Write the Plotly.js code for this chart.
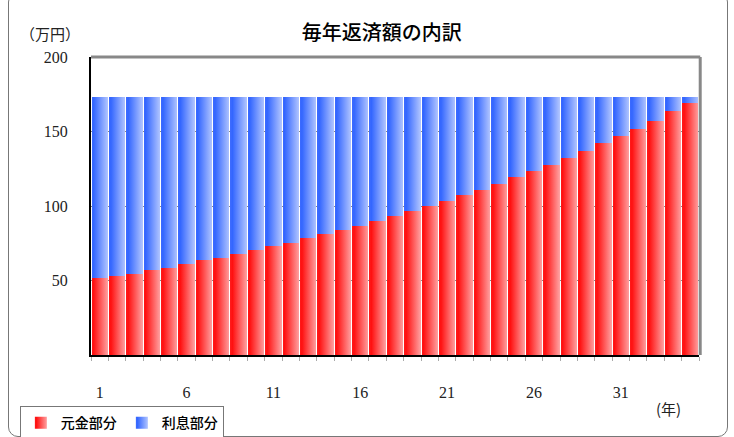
<!DOCTYPE html>
<html><head><meta charset="utf-8">
<script src="https://cdn.plot.ly/plotly-3.0.1.min.js"></script>
<style>
html,body{margin:0;padding:0;background:#fff;}
#frame{position:absolute;left:8px;top:-8px;width:718px;height:443px;border:1px solid #777;border-radius:10px;}
#chart{position:absolute;left:0;top:0;width:734px;height:437px;}
</style></head>
<body>
<div id="frame"></div>
<div id="chart"></div>
<script>
const years = [];
for (let i = 1; i <= 35; i++) years.push(i);
const principal = [51.5,53.3,54.7,56.9,58.7,61.3,63.5,65.3,68.0,70.7,72.9,75.5,78.2,80.9,84.0,86.7,90.2,93.3,
  96.9,100.0,103.5,107.5,110.7,114.7,119.5,123.5,127.5,132.0,136.9,142.2,146.7,152.0,157.3,163.5,168.9];
const interest = [121.4,119.6,118.2,116.0,114.2,111.6,109.4,107.6,104.9,102.2,100.0,97.4,94.7,92.0,88.9,86.2,82.7,79.6,
  76.0,72.9,69.4,65.4,62.2,58.2,53.4,49.4,45.4,40.9,36.0,30.7,26.2,20.9,15.6,9.4,4.0];
const xTicks = [1,6,11,16,21,26,31];
const yTicks = [50,100,150,200];

const traces = [
  {type:'bar', name:'元金部分', x:years, y:principal, marker:{color:'#ff5050', line:{width:0}}, hoverinfo:'skip'},
  {type:'bar', name:'利息部分', x:years, y:interest, marker:{color:'#6688ff', line:{width:0}}, hoverinfo:'skip'}
];
const serif = 'Liberation Serif, "Noto Sans CJK JP", serif';
const layout = {
  width:734, height:437,
  paper_bgcolor:'rgba(0,0,0,0)', plot_bgcolor:'#fff',
  margin:{l:91, r:35, t:57, b:82, autoexpand:false},
  barmode:'stack', bargap:0.06,
  showlegend:true,
  legend:{orientation:'h', x:-0.117, y:-0.172, xanchor:'left', yanchor:'top',
    bordercolor:'#777', borderwidth:1, bgcolor:'#fff',
    font:{family:'"Noto Sans CJK JP", sans-serif', size:14, color:'#000', weight:500},
    itemwidth:30, tracegroupgap:0, traceorder:'normal'},
  title:{text:'毎年返済額の内訳', x:0.52, xanchor:'center', y:0.925, yanchor:'middle',
    font:{family:'"Noto Sans CJK JP", sans-serif', size:20, color:'#000', weight:500}},
  xaxis:{type:'linear', range:[0.5,35.5], tickvals:xTicks, ticktext:xTicks.map(String),
    ticks:'outside', ticklen:4, tickcolor:'rgba(0,0,0,0)', ticklabelstandoff:18,
    showline:true, linecolor:'#000', linewidth:2, showgrid:false, zeroline:false,
    minor:{tick0:0.5, dtick:1, ticks:'outside', ticklen:4, tickcolor:'#aaa', showgrid:false},
    tickfont:{family:serif, size:16, color:'#222'}, fixedrange:true},
  yaxis:{range:[0,200], tickvals:yTicks, ticks:'', ticklabelstandoff:18,
    showline:true, linecolor:'#000', linewidth:2, showgrid:true, gridcolor:'#888', gridwidth:1,
    zeroline:false, tickfont:{family:serif, size:16, color:'#222'}, fixedrange:true},
  shapes:[
    {type:'line', xref:'paper', yref:'paper', x0:0, x1:1.002, y0:1, y1:1, line:{color:'#888', width:3}},
    {type:'line', xref:'paper', yref:'paper', x0:1.002, x1:1.002, y0:0, y1:1, line:{color:'#888', width:3}}
  ],
  annotations:[
    {text:'（万円）', xref:'paper', yref:'paper', x:-0.067, y:1.08, xanchor:'center', yanchor:'middle',
      showarrow:false, font:{family:'"Noto Sans CJK JP", serif', size:15, color:'#222'}},
    {text:'(年)', xref:'paper', yref:'paper', x:0.95, y:-0.178, xanchor:'center', yanchor:'middle',
      showarrow:false, font:{family:'"Noto Sans CJK JP", serif', size:15, color:'#222'}}
  ]
};
Plotly.newPlot('chart', traces, layout, {displayModeBar:false, staticPlot:true}).then(function(gd){
  const svg = gd.querySelector('svg.main-svg');
  const ns = 'http://www.w3.org/2000/svg';
  let defs = svg.querySelector('defs');
  if (!defs) { defs = document.createElementNS(ns,'defs'); svg.insertBefore(defs, svg.firstChild); }
  function grad(id, stops){
    const g = document.createElementNS(ns,'linearGradient');
    g.setAttribute('id', id); g.setAttribute('x1','0'); g.setAttribute('x2','1'); g.setAttribute('y1','0'); g.setAttribute('y2','0');
    stops.forEach(function(s){ const st=document.createElementNS(ns,'stop'); st.setAttribute('offset',s[0]); st.setAttribute('stop-color',s[1]); g.appendChild(st); });
    defs.appendChild(g);
  }
  grad('gRed', [['0','#ff1a1a'],['0.12','#ff1010'],['1','#ffa0a0']]);
  grad('gBlue', [['0','#3d6bff'],['0.12','#3366ff'],['1','#b0c4ff']]);
  const ids = ['gRed','gBlue'];
  gd.querySelectorAll('.barlayer .trace').forEach(function(tr, i){
    tr.querySelectorAll('path').forEach(function(p){ p.style.fill = 'url(#'+ids[i]+')'; });
  });
  gd.querySelectorAll('.legend .traces').forEach(function(tr, i){
    tr.querySelectorAll('.legendpoints path').forEach(function(p){ p.style.fill = 'url(#'+ids[i]+')'; });
  });
});
</script>
</body></html>
